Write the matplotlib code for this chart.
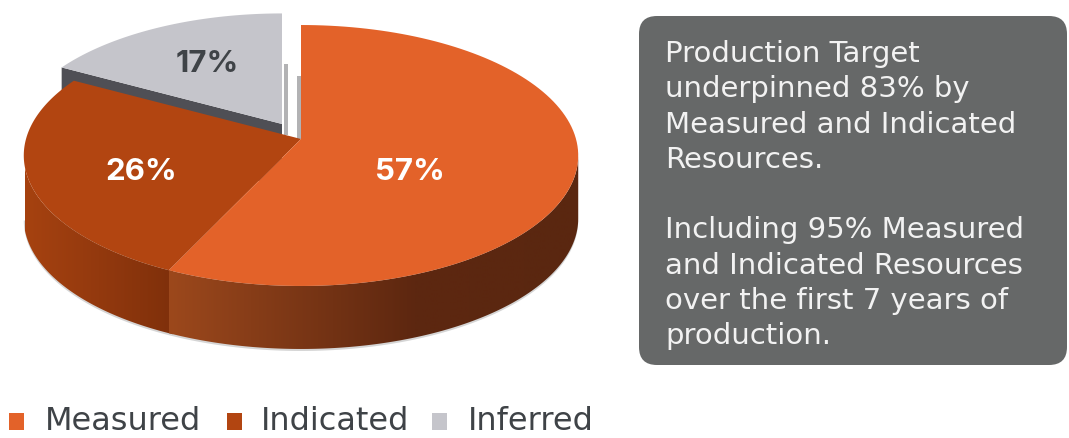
"""Exploded 3D-look pie of resource categories with a text panel."""

import matplotlib

matplotlib.use("Agg")
import matplotlib.pyplot as plt
import numpy as np
from matplotlib.patches import FancyBboxPatch, Polygon, Rectangle

categories = ["Measured", "Indicated", "Inferred"]
shares = [57, 26, 17]
share_labels = ["57%", "26%", "17%"]
panel_lines = [
    "Production Target",
    "underpinned 83% by",
    "Measured and Indicated",
    "Resources.",
    "",
    "Including 95% Measured",
    "and Indicated Resources",
    "over the first 7 years of",
    "production.",
]

TOP_COLORS = ["#e36229", "#b24511", "#c5c5cb"]
TEXT_DARK = "#3f4347"
BOLD_FONT = "Inter"
TEXT_FONT = "DejaVu Sans"

# pie projection, in pixels of the 1069x439 canvas
CX, K, PERSP = 301, 275, 0.1264
Y_A, Y_B = -110.7, 140
DEPTH = 63
EXPLODE = np.array([-19, -15])
EXPLODE_SCALE = 0.97


def project(t):
    """Map a clockwise angle from 12 o'clock on the disc to canvas pixels."""
    denom = 1 + PERSP * np.cos(t)
    return np.column_stack([CX + K * np.sin(t) / denom, (Y_A * np.cos(t) + Y_B) / denom])


def wedge_points(start, end):
    return np.vstack([[CX, Y_B], project(np.linspace(start, end, 120))])


def gradient_wall(ax, start, end, stops, xspan):
    edge = project(np.linspace(start, end, 160))
    wall = np.vstack([edge, edge[::-1] + (0, DEPTH)])
    patch = Polygon(wall, closed=True, fc="none", ec="none")
    ax.add_patch(patch)

    colors = np.array([matplotlib.colors.to_rgb(c) for _, c in stops])
    pos = [p for p, _ in stops]
    xs = np.linspace(0, 1, 256)
    rgb = np.stack([np.interp(xs, pos, colors[:, i]) for i in range(3)], axis=1)
    img = ax.imshow(
        rgb[np.newaxis, :, :],
        extent=(xspan[0], xspan[1], 439, 0),
        aspect="auto",
        zorder=2,
        interpolation="bilinear",
    )
    img.set_clip_path(patch)


def main():
    fig = plt.figure(figsize=(10.69, 4.39), dpi=100)
    ax = fig.add_axes([0, 0, 1, 1])

    bounds = np.cumsum([0] + shares) / sum(shares) * 2 * np.pi
    seam_x = project(np.array([bounds[1]]))[0, 0]
    # the wall is only seen between the widest points of the disc
    right_t = np.arccos(-PERSP)
    left_t = 2 * np.pi - right_t

    # soft shadow under the front of the disc
    front = project(np.linspace(right_t, left_t, 200))
    ax.add_patch(Polygon(front + (0, DEPTH + 2), closed=True, fc="#b9b9b9", ec="none", alpha=0.6, zorder=1))

    # walls
    gradient_wall(ax, bounds[1] - 0.02, left_t, [(0, "#7f300b"), (0.5, "#93390e"), (1, "#a64210")], (seam_x + 4, 25))
    gradient_wall(ax, right_t, bounds[1], [(0, "#5a2710"), (0.4, "#5d2710"), (1, "#9c481c")], (578, seam_x))

    # exploded slice: its cut wall sits behind the indicated top face
    apex = np.array([CX, Y_B]) + EXPLODE
    inferred = apex + (wedge_points(bounds[2], bounds[3]) - [CX, Y_B]) * EXPLODE_SCALE
    far = inferred[1]
    ax.add_patch(Polygon([far, apex, apex + (0, DEPTH), far + (0, DEPTH)], closed=True, fc="#4f4f55", ec="none", zorder=3))
    ax.add_patch(Rectangle((apex[0] + 2, 65), 4, apex[1] + 11 - 65, fc="#b2b2b4", ec="none", zorder=3))
    ax.add_patch(Rectangle((CX - 4, 77), 4, Y_B - 77, fc="#b2b2b4", ec="none", zorder=3))
    ax.add_patch(Polygon(inferred, closed=True, fc=TOP_COLORS[2], ec="none", zorder=4))

    # top faces
    ax.add_patch(Polygon(wedge_points(bounds[1], bounds[2]), closed=True, fc=TOP_COLORS[1], ec="none", zorder=5))
    ax.add_patch(Polygon(wedge_points(bounds[0], bounds[1]), closed=True, fc=TOP_COLORS[0], ec="none", zorder=6))

    label_xy = [(410, 172), (141, 172), (207, 64)]
    label_colors = ["white", "white", TEXT_DARK]
    for text, (x, y), color in zip(share_labels, label_xy, label_colors):
        ax.text(x, y, text, ha="center", va="center", fontsize=22.5, fontweight="bold", color=color, family=BOLD_FONT, zorder=8)

    # text panel
    ax.add_patch(
        FancyBboxPatch(
            (657, 35), 392, 313, boxstyle="round,pad=18,rounding_size=18", fc="#666868", ec="none", zorder=2
        )
    )
    y = 54
    for line in panel_lines:
        if line:
            ax.text(665, y, line, ha="left", va="center", fontsize=21, color="#f2f2f2", family=TEXT_FONT, zorder=3)
        y += 35.3

    # legend
    square_x = [9, 227, 432]
    text_x = [45, 261, 468]
    for name, color, sx, tx in zip(categories, TOP_COLORS, square_x, text_x):
        ax.add_patch(Rectangle((sx, 414), 15, 17, fc=color, ec="none"))
        ax.text(tx, 422, name, ha="left", va="center", fontsize=23, color=TEXT_DARK, family=TEXT_FONT)

    ax.set_xlim(0, 1069)
    ax.set_ylim(439, 0)
    ax.axis("off")
    fig.savefig("out.png", dpi=100)
    plt.close(fig)


if __name__ == "__main__":
    main()
